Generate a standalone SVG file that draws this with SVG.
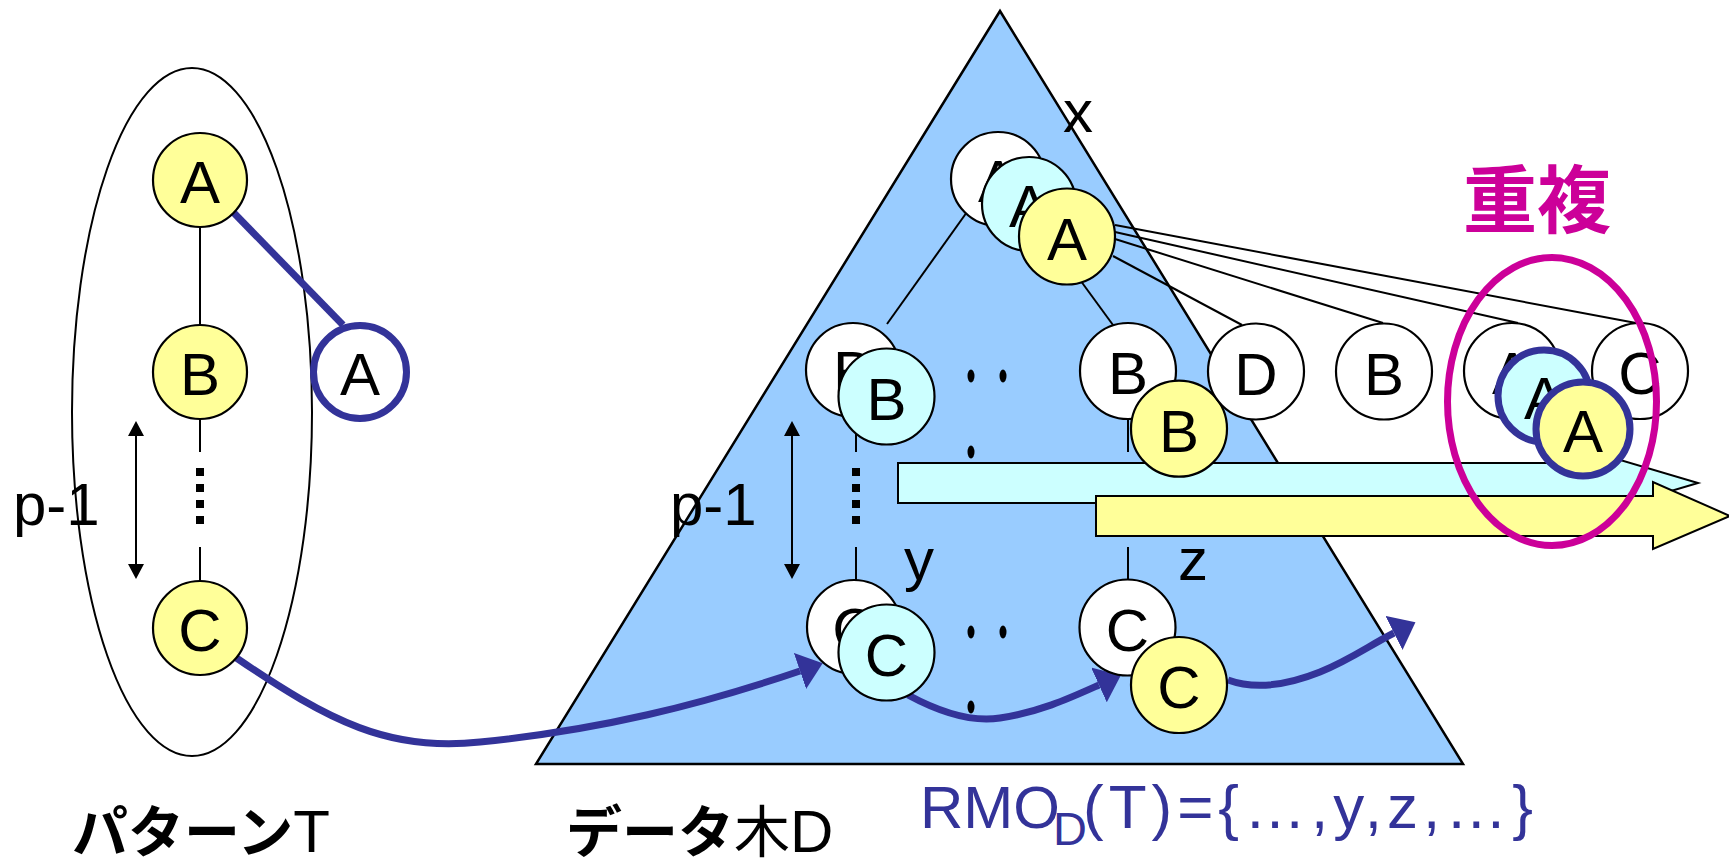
<svg xmlns="http://www.w3.org/2000/svg" width="1729" height="864" viewBox="0 0 1729 864">
<defs>
<style>
.nd{stroke:#000;stroke-width:2.2}
.w{fill:#fff}
.c{fill:#CCFFFF}
.y{fill:#FFFF99}
.lb{font-family:"Liberation Sans",Arial,sans-serif;font-size:60px;text-anchor:middle;fill:#000}
.ed{stroke:#000;stroke-width:2;fill:none}
.bl{stroke:#333399;stroke-width:7;fill:none}
.ring{stroke:#333399;stroke-width:7}
.dash{stroke:#000;stroke-width:8;stroke-dasharray:8 8;fill:none}
.dot{fill:#000}
.ann{font-family:"Liberation Sans",Arial,sans-serif;font-size:60px;fill:#000}
.jp{font-family:"Noto Sans CJK JP",sans-serif;font-size:56px;fill:#000}
.lt{font-family:"Liberation Sans",Arial,sans-serif;font-size:60px;font-weight:normal}
.bar{stroke:#000;stroke-width:2}
</style>
<marker id="bh" viewBox="0 0 24 38" refX="0" refY="19" markerWidth="24" markerHeight="38" markerUnits="userSpaceOnUse" orient="auto"><path d="M0,0 L24,19 L0,38 z" fill="#333399"/></marker>
<marker id="kh" viewBox="0 0 15 16" refX="0" refY="8" markerWidth="15" markerHeight="16" markerUnits="userSpaceOnUse" orient="auto-start-reverse"><path d="M0,0 L15,8 L0,16 z" fill="#000"/></marker>
</defs>
<rect width="1729" height="864" fill="#fff"/>

<g id="pattern-T">
<ellipse cx="192" cy="412" rx="120" ry="344" fill="none" stroke="#000" stroke-width="2"/>
</g>

<g id="data-tree-D">
<polygon points="1000,11 1463,764 536,764" fill="#99CCFF" stroke="#000" stroke-width="2.5"/>
<ellipse class="dot" cx="971" cy="376" rx="3.5" ry="6.5"/>
<ellipse class="dot" cx="1003" cy="376" rx="3.5" ry="6.5"/>
<ellipse class="dot" cx="971" cy="452" rx="3.5" ry="6.5"/>
<ellipse class="dot" cx="971" cy="632" rx="3.5" ry="6.5"/>
<ellipse class="dot" cx="1003" cy="632" rx="3.5" ry="6.5"/>
<ellipse class="dot" cx="971" cy="707" rx="3.5" ry="6.5"/>
</g>

<g id="connectors">
<line class="ed" x1="200" y1="227" x2="200" y2="325"/>
<line class="ed" x1="200" y1="419" x2="200" y2="452"/>
<line class="dash" x1="200" y1="468" x2="200" y2="524"/>
<line class="ed" x1="200" y1="547" x2="200" y2="581"/>
<line class="ed" x1="967" y1="212" x2="887" y2="324"/>
<line class="ed" x1="1075" y1="273" x2="1113" y2="325"/>
<line class="ed" x1="856" y1="418" x2="856" y2="452"/>
<line class="dash" x1="856" y1="468" x2="856" y2="524"/>
<line class="ed" x1="856" y1="547" x2="856" y2="580"/>
<line class="ed" x1="1128" y1="419" x2="1128" y2="452"/>
<line class="ed" x1="1128" y1="547" x2="1128" y2="580"/>
<line class="ed" x1="1115" y1="225" x2="1636" y2="323"/>
<line class="ed" x1="1115" y1="232" x2="1518" y2="323"/>
<line class="ed" x1="1115" y1="239" x2="1383" y2="323"/>
<line class="ed" x1="1113" y1="256" x2="1242" y2="325"/>
<line class="bl" x1="233" y1="212" x2="343" y2="325"/>
<path class="bl" d="M235,657 C330,722 390,752 480,742 C600,730 700,705 800,671" marker-end="url(#bh)"/>
<path class="bl" d="M908,695 C945,715 975,722 1000,718 C1040,712 1070,698 1099,685" marker-end="url(#bh)"/>
<path class="bl" d="M1228,680 C1250,688 1280,688 1320,672 C1350,660 1370,645 1394,633" marker-end="url(#bh)"/>
<line class="ed" x1="136" y1="436" x2="136" y2="564" marker-start="url(#kh)" marker-end="url(#kh)"/>
<line class="ed" x1="792" y1="436" x2="792" y2="564" marker-start="url(#kh)" marker-end="url(#kh)"/>
</g>

<g id="rmo-arrows">
<polygon class="bar" points="898,463 1590,463 1590,451 1698,483 1590,515 1590,503 898,503" fill="#CCFFFF"/>
<polygon class="bar" points="1096,496 1653,496 1653,482 1730,516 1653,549 1653,536 1096,536" fill="#FFFF99"/>
</g>

<g id="T-A"><circle class="nd y" cx="200" cy="180" r="47"/><text class="lb" x="200" y="203">A</text></g>
<g id="T-B"><circle class="nd y" cx="200" cy="372" r="47"/><text class="lb" x="200" y="395">B</text></g>
<g id="T-C"><circle class="nd y" cx="200" cy="628" r="47"/><text class="lb" x="200" y="651">C</text></g>
<g id="T-A2"><circle class="ring w" cx="360" cy="372" r="46.5"/><text class="lb" x="360" y="395">A</text></g>

<g id="D-A1"><circle class="nd w" cx="998" cy="179" r="47"/><text class="lb" x="998" y="202">A</text></g>
<g id="D-A2"><circle class="nd c" cx="1029" cy="204" r="47"/><text class="lb" x="1029" y="227">A</text></g>
<g id="D-A3"><circle class="nd y" cx="1067" cy="236.5" r="48"/><text class="lb" x="1067" y="260">A</text></g>
<g id="D-B1"><circle class="nd w" cx="853" cy="370" r="47"/><text class="lb" x="853" y="393">B</text></g>
<g id="D-B2"><circle class="nd c" cx="886.5" cy="396.5" r="48"/><text class="lb" x="886.5" y="420">B</text></g>
<g id="D-B3"><circle class="nd w" cx="1128" cy="371" r="48"/><text class="lb" x="1128" y="394">B</text></g>
<g id="D-B4"><circle class="nd y" cx="1179" cy="428.7" r="48"/><text class="lb" x="1179" y="452">B</text></g>
<g id="D-C1"><circle class="nd w" cx="854" cy="627" r="47"/><text class="lb" x="854" y="650">C</text></g>
<g id="D-C2"><circle class="nd c" cx="886.5" cy="652.5" r="48"/><text class="lb" x="886.5" y="676">C</text></g>
<g id="D-C3"><circle class="nd w" cx="1127.5" cy="627.5" r="48"/><text class="lb" x="1127.5" y="651">C</text></g>
<g id="D-C4"><circle class="nd y" cx="1179" cy="685" r="48"/><text class="lb" x="1179" y="708">C</text></g>

<g id="R-D"><circle class="nd w" cx="1256" cy="371.5" r="48"/><text class="lb" x="1256" y="395">D</text></g>
<g id="R-B"><circle class="nd w" cx="1384" cy="371.5" r="48"/><text class="lb" x="1384" y="395">B</text></g>
<g id="R-A"><circle class="nd w" cx="1512" cy="371" r="48"/><text class="lb" x="1512" y="394">A</text></g>
<g id="R-C"><circle class="nd w" cx="1640" cy="371" r="48"/><text class="lb" x="1640" y="394">C</text></g>
<g id="R-A2"><circle class="ring c" cx="1544" cy="396" r="46"/><text class="lb" x="1544" y="419">A</text></g>
<g id="R-A3"><circle class="ring y" cx="1583" cy="429" r="47"/><text class="lb" x="1583" y="452">A</text></g>

<g id="overlap">
<ellipse cx="1552" cy="401.5" rx="104.5" ry="144" fill="none" stroke="#CC0099" stroke-width="7"/>
<text x="1537" y="227" font-family="'Noto Sans CJK JP',sans-serif" font-size="74" font-weight="bold" fill="#CC0099" text-anchor="middle">重複</text>
</g>

<g id="labels">
<text class="ann" x="13" y="525">p-1</text>
<text class="ann" x="670" y="525">p-1</text>
<text class="ann" x="1063" y="132">x</text>
<text class="ann" x="904" y="580">y</text>
<text class="ann" x="1178" y="580">z</text>
<text class="jp" x="72" y="852"><tspan font-weight="bold">パターン</tspan><tspan class="lt">T</tspan></text>
<text class="jp" x="566" y="852"><tspan font-weight="bold">データ</tspan>木<tspan class="lt">D</tspan></text>
<text font-family="'Liberation Sans',Arial,sans-serif" fill="#333399"><tspan x="920" y="828" font-size="60">RMO</tspan><tspan x="1053" y="845" font-size="47">D</tspan><tspan x="1083" y="828" font-size="62" letter-spacing="5">(T)={…,y,z,…}</tspan></text>
</g>
</svg>
